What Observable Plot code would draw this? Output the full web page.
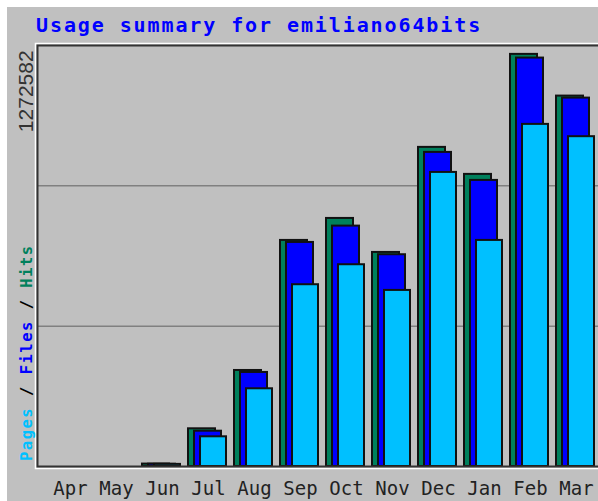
<!DOCTYPE html>
<html>
<head>
<meta charset="utf-8">
<script src="https://cdn.jsdelivr.net/npm/d3@7"></script>
<script src="https://cdn.jsdelivr.net/npm/@observablehq/plot@0.6"></script>
<style>
  html, body { margin: 0; padding: 0; background: #ffffff; overflow: hidden; }
  #chart { position: absolute; left: 7px; top: 7px; }
</style>
</head>
<body>
<div id="chart"></div>
<script>
const title = "Usage summary for emiliano64bits";
const months = ["Apr","May","Jun","Jul","Aug","Sep","Oct","Nov","Dec","Jan","Feb","Mar"];
const hits  = [0, 0, 7500, 116400, 296500, 698100, 766000, 661000, 985400, 902000, 1272582, 1143800];
const files = [0, 0, 7000, 109000, 290400, 691900, 742300, 653900, 969900, 883400, 1261200, 1137600];
const pages = [0, 0, 6500,  91700, 240000, 561300, 623000, 543700, 908100, 698100, 1056400, 1018400];
const legendParts = [["Pages", "#00c0ff"], [" / ", "#000000"], ["Files", "#0000ff"], [" / ", "#000000"], ["Hits", "#00805c"]];

const yMax = 1300000;
const data = months.map((m, i) => ({month: m, hits: hits[i], files: files[i], pages: pages[i]}));

const barStyle = {stroke: "#111", strokeWidth: 2, filter: d => d.hits > 0};

const plot = Plot.plot({
  width: 591,
  height: 494,
  marginLeft: 30,
  marginTop: 38,
  marginBottom: 35,
  marginRight: 0,
  style: {background: "#c0c0c0", fontFamily: "DejaVu Sans Mono", fontSize: "19px", color: "#222"},
  x: {type: "band", domain: months, range: [38, 590], padding: 0, label: null},
  y: {domain: [0, yMax], axis: null},
  marks: [
    Plot.ruleY([yMax / 3, 2 * yMax / 3], {stroke: "#808080", strokeWidth: 1.5}),
    Plot.barY(data, {...barStyle, x: "month", y: "hits", fill: "#00805c", insetLeft: 5, insetRight: 14}),
    Plot.barY(data, {...barStyle, x: "month", y: "files", fill: "#0000ff", insetLeft: 11, insetRight: 8}),
    Plot.barY(data, {...barStyle, x: "month", y: "pages", fill: "#00c0ff", insetLeft: 17, insetRight: 3}),
    Plot.frame({stroke: "#ffffff", strokeWidth: 1.5, insetTop: -2, insetLeft: -2, insetBottom: -2, insetRight: -20}),
    Plot.frame({stroke: "#333333", strokeWidth: 2, insetRight: -20}),
    Plot.axisX({tickSize: 0, tickPadding: 14.5, dx: 2, fontSize: 19, label: null, fill: "#222"}),
    Plot.text([d3.max(hits)], {
      y: d => d, text: d => String(d), frameAnchor: "left", rotate: -90, textAnchor: "end",
      dx: -11.5, dy: -4, fontFamily: "Liberation Sans", fontSize: 21, fill: "#333"
    })
  ]
});

document.getElementById("chart").appendChild(plot);
const svg = d3.select(plot);

svg.append("text")
  .attr("x", 29).attr("y", 25)
  .attr("text-anchor", "start")
  .attr("font-family", "DejaVu Sans Mono").attr("font-weight", "bold")
  .attr("font-size", 20).attr("letter-spacing", 1.9)
  .attr("fill", "#0000ff")
  .text(title);

const leg = svg.append("text")
  .attr("transform", "translate(19.5,454) rotate(-90)")
  .attr("text-anchor", "start")
  .attr("dy", "0.35em")
  .attr("font-family", "DejaVu Sans Mono").attr("font-weight", "bold")
  .attr("font-size", 15.5).attr("letter-spacing", 1.5)
  .attr("xml:space", "preserve");
leg.selectAll("tspan").data(legendParts).join("tspan")
  .attr("fill", d => d[1])
  .style("white-space", "pre")
  .text(d => d[0]);
</script>
</body>
</html>
